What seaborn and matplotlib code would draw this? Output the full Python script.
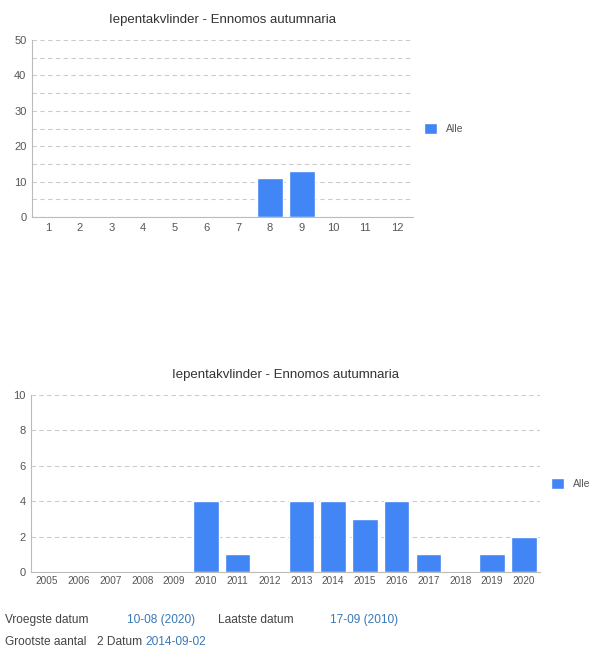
import matplotlib
matplotlib.use("Agg")
import matplotlib.pyplot as plt
import seaborn as sns
import pandas as pd

# Data
title = "Iepentakvlinder - Ennomos autumnaria"
months = [1, 2, 3, 4, 5, 6, 7, 8, 9, 10, 11, 12]
month_counts = [0, 0, 0, 0, 0, 0, 0, 11, 13, 0, 0, 0]
years = list(range(2005, 2021))
year_counts = [0, 0, 0, 0, 0, 4, 1, 0, 4, 4, 3, 4, 1, 0, 1, 2]
series_name = "Alle"

bar_color = "#4285f4"
grid_color = "#cccccc"
text_color = "#555555"

sns.set_style("white")
plt.rcParams['font.family'] = ['Liberation Sans', 'DejaVu Sans']

fig = plt.figure(figsize=(5.93, 6.57), dpi=100)


def style_axes(ax, ymax, ystep, gridstep):
    ax.set_ylim(0, ymax)
    ax.set_yticks(range(0, ymax + 1, ystep))
    ax.set_yticks(range(0, ymax + 1, gridstep), minor=True)
    ax.grid(axis='y', which='both', color=grid_color, linestyle=(0, (4, 3)), linewidth=0.8)
    ax.set_axisbelow(True)
    for s in ['top', 'right']:
        ax.spines[s].set_visible(False)
    for s in ['left', 'bottom']:
        ax.spines[s].set_color('#bbbbbb')
        ax.spines[s].set_linewidth(0.8)
    ax.tick_params(axis='y', which='major', length=3, color='#bbbbbb', labelsize=8, labelcolor=text_color, pad=1)
    ax.tick_params(axis='y', which='minor', length=0)
    ax.tick_params(axis='x', length=0, labelsize=8, labelcolor=text_color, pad=4)
    ax.set_xlabel("")
    ax.set_ylabel("")
    ax.set_title(title, fontsize=9.5, color='#333333', pad=12)
    ax.legend(loc='center left', bbox_to_anchor=(1.0, 0.5), frameon=False,
              borderaxespad=0.9, borderpad=0.2, handletextpad=0.9,
              handlelength=1.2, handleheight=1.2, fontsize=7.5, labelcolor=text_color)


# Top chart: per month
df_m = pd.DataFrame({"maand": months, "aantal": month_counts})
ax1 = fig.add_axes([0.054, 0.6697, 0.642, 0.2694])
sns.barplot(data=df_m, x="maand", y="aantal", color=bar_color, width=0.82,
            saturation=1, label=series_name, ax=ax1)
style_axes(ax1, 50, 10, 5)
ax1.set_xlim(-0.5, 11.5)

# Bottom chart: per year
df_y = pd.DataFrame({"jaar": [str(y) for y in years], "aantal": year_counts})
ax2 = fig.add_axes([0.0523, 0.1294, 0.858, 0.2694])
sns.barplot(data=df_y, x="jaar", y="aantal", color=bar_color, width=0.8,
            saturation=1, label=series_name, ax=ax2)
style_axes(ax2, 10, 2, 2)
ax2.set_xlim(-0.5, 15.5)
ax2.tick_params(axis='x', labelsize=7.2, pad=3)

# Footer info
link = "#3a78b5"
grey = '#444444'
fs = 8.6
W, H = 593, 657
row1 = 1 - 620 / H
row2 = 1 - 642 / H
fig.text(5 / W, row1, "Vroegste datum", fontsize=fs, color=grey, va='center')
fig.text(127 / W, row1, "10-08 (2020)", fontsize=fs, color=link, va='center')
fig.text(218 / W, row1, "Laatste datum", fontsize=fs, color=grey, va='center')
fig.text(330 / W, row1, "17-09 (2010)", fontsize=fs, color=link, va='center')
fig.text(5 / W, row2, "Grootste aantal", fontsize=fs, color=grey, va='center')
fig.text(97 / W, row2, "2 Datum", fontsize=fs, color=grey, va='center')
fig.text(145 / W, row2, "2014-09-02", fontsize=fs, color=link, va='center')

fig.savefig("out.png", dpi=100)
